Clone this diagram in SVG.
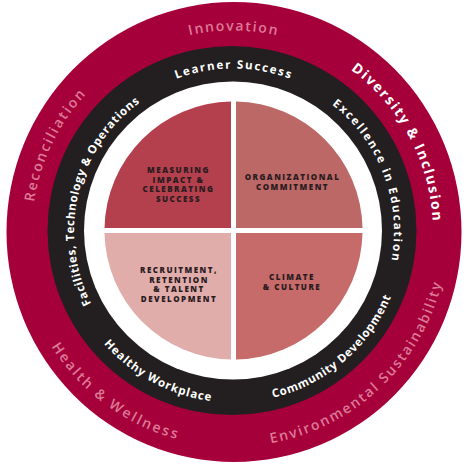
<svg xmlns="http://www.w3.org/2000/svg" width="466" height="465" viewBox="0 0 466 465">
  <style>
    .outer { font-family: "Open Sans", "Liberation Sans", sans-serif; font-size: 14px; font-weight: 600; fill: #DC7A98; }
    .outerw { fill: #FFFFFF; font-weight: 700; }
    .ring { font-family: "Open Sans", "Liberation Sans", sans-serif; font-size: 11.5px; font-weight: 700; fill: #FFFFFF; }
    .q { font-family: "Open Sans", "Liberation Sans", sans-serif; font-size: 8px; font-weight: 800; fill: #2A1B1E; letter-spacing: 1.5px; text-anchor: middle; }
  </style>
  <defs>
    <path id="pInnovation" d="M32.77,213.98 A201,201 0 0 1 433.23,213.98"/>
    <path id="pDiversity" d="M153.25,48.09 A200,200 0 0 1 343.39,398.28"/>
    <path id="pReconciliation" d="M130.53,404.42 A201,201 0 0 1 303.88,43.41"/>
    <path id="pHealth" d="M49.68,119.16 A215,215 0 0 0 394.03,373.96"/>
    <path id="pEnvironmental" d="M89.14,391.28 A215,215 0 0 0 402.42,99.13"/>
    <path id="pLearner" d="M70.62,217.29 A163,163 0 0 1 395.38,217.29"/>
    <path id="pExcellence" d="M188.89,76.66 A161,161 0 0 1 303.32,376.33"/>
    <path id="pCommunity" d="M113.14,353.47 A171,171 0 0 0 372.21,132.20"/>
    <path id="pHealthy" d="M75.89,164.0 A171,171 0 0 0 376.01,325.26"/>
    <path id="pFacilities" d="M182.42,382.24 A159,159 0 0 1 256.64,74.27"/>
  </defs>

  <g id="outer-ring">
    <ellipse cx="234" cy="232" rx="227.5" ry="230" fill="#A6003A"/>
    <text class="outer"><textPath href="#pInnovation" startOffset="50%" text-anchor="middle" textLength="88" lengthAdjust="spacing">Innovation</textPath></text>
    <text class="outer outerw"><textPath href="#pDiversity" startOffset="50%" text-anchor="middle" textLength="178" lengthAdjust="spacing">Diversity &amp; Inclusion</textPath></text>
    <text class="outer"><textPath href="#pReconciliation" startOffset="50%" text-anchor="middle" textLength="121" lengthAdjust="spacing">Reconciliation</textPath></text>
    <text class="outer"><textPath href="#pHealth" startOffset="50%" text-anchor="middle" textLength="159" lengthAdjust="spacing">Health &amp; Wellness</textPath></text>
    <text class="outer"><textPath href="#pEnvironmental" startOffset="50%" text-anchor="middle" textLength="247" lengthAdjust="spacing">Environmental Sustainability</textPath></text>
  </g>

  <g id="dark-ring">
    <circle cx="232" cy="230.5" r="184.5" fill="#231F20"/>
    <circle cx="233" cy="230.5" r="149" fill="#FFFFFF"/>
    <text class="ring"><textPath href="#pLearner" startOffset="50%" text-anchor="middle" textLength="116" lengthAdjust="spacing">Learner Success</textPath></text>
    <text class="ring"><textPath href="#pExcellence" startOffset="50%" text-anchor="middle" textLength="175" lengthAdjust="spacing">Excellence in Education</textPath></text>
    <text class="ring"><textPath href="#pCommunity" startOffset="50%" text-anchor="middle" textLength="161" lengthAdjust="spacing">Community Development</textPath></text>
    <text class="ring"><textPath href="#pHealthy" startOffset="50%" text-anchor="middle" textLength="124" lengthAdjust="spacing">Healthy Workplace</textPath></text>
    <text class="ring"><textPath href="#pFacilities" startOffset="50%" text-anchor="middle" textLength="225" lengthAdjust="spacing">Facilities, Technology &amp; Operations</textPath></text>
  </g>

  <g id="q-measuring">
    <path d="M231,228 V101.5 A129,129 0 0 0 104.5,228 Z" fill="#B4404E"/>
    <text class="q" x="178.5" y="172.8">MEASURING</text>
    <text class="q" x="178.5" y="182.5">IMPACT &amp;</text>
    <text class="q" x="178.5" y="192.2">CELEBRATING</text>
    <text class="q" x="178.5" y="201.9">SUCCESS</text>
  </g>
  <g id="q-organizational">
    <path d="M236,228 H362.5 A129,129 0 0 0 236,101.5 Z" fill="#BC6866"/>
    <text class="q" x="292.5" y="179.8">ORGANIZATIONAL</text>
    <text class="q" x="292.5" y="189.5">COMMITMENT</text>
  </g>
  <g id="q-climate">
    <path d="M236,233 V359.5 A129,129 0 0 0 362.5,233 Z" fill="#C66B6A"/>
    <text class="q" x="292" y="279.8">CLIMATE</text>
    <text class="q" x="292" y="289.5">&amp; CULTURE</text>
  </g>
  <g id="q-recruitment">
    <path d="M231,233 H104.5 A129,129 0 0 0 231,359.5 Z" fill="#E1ADAB"/>
    <text class="q" x="179" y="272.8">RECRUITMENT,</text>
    <text class="q" x="179" y="282.5">RETENTION</text>
    <text class="q" x="179" y="292.2">&amp; TALENT</text>
    <text class="q" x="179" y="301.9">DEVELOPMENT</text>
  </g>
  <g id="connectors"/>
</svg>
